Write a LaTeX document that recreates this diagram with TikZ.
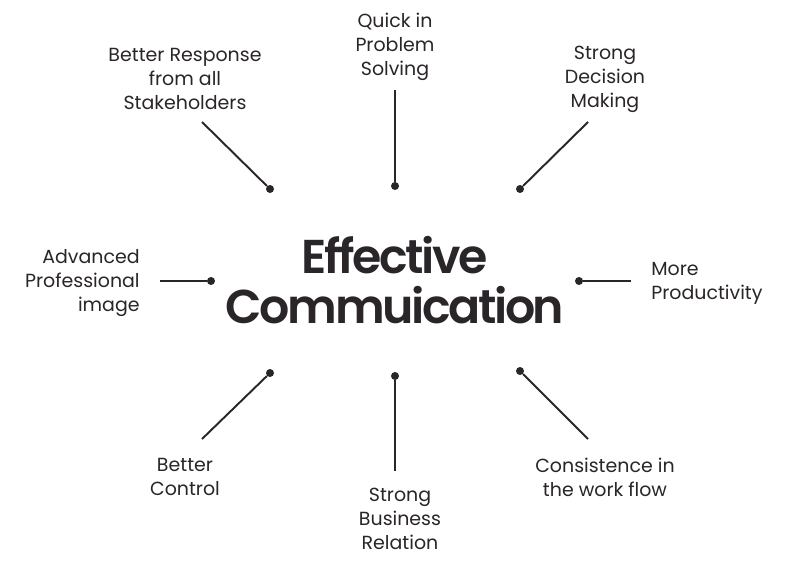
\documentclass[tikz,border=0pt]{standalone}
\usepackage{fontspec}
\setmainfont{Poppins}
\newfontfamily\titlefont{Poppins SemiBold}[LetterSpace=-5]
\usepackage{xcolor}
\usepackage{tikz}
\usetikzlibrary{
    positioning,
    arrows.meta
}
\definecolor{ink}{RGB}{42,37,41}
\tikzset{
    label_text/.style={
        text=ink, align=center,
        font=\fontsize{10.8pt}{13.7pt}\selectfont
    },
    dot/.style={
        circle, fill=ink, inner sep=0pt, minimum size=0.16cm
    },
    link/.style={
        draw=ink, line width=1.1pt
    }
}
\begin{document}
\begin{tikzpicture}[
        x=0.02cm, y=-0.02cm,
        title/.style={text=ink, align=center, font=\fontsize{27pt}{28.5pt}\titlefont},
        label_left/.style={label_text, align=right, anchor=east, inner sep=0pt},
        label_right/.style={label_text, align=left, anchor=west, inner sep=0pt}
    ]
    \useasboundingbox[fill=white] (0,0) rectangle (790,561);

    % TITLE
    \node[title] (title) at (395,280) {Effective\\Commuication};

    % LABELS
    \node[label_text] (quick) at (395,47) {Quick in\\Problem\\Solving};
    \node[label_text] (response) at (185,79) {Better Response\\from all\\Stakeholders};
    \node[label_text] (decision) at (605,79) {Strong\\Decision\\Making};
    \node[label_left] (image) at (140,283) {Advanced\\Professional\\image};
    \node[label_right] (productivity) at (651,283) {More\\Productivity};
    \node[label_text] (control) at (185,477) {Better\\Control};
    \node[label_text] (business) at (400,519) {Strong\\Business\\Relation};
    \node[label_text] (workflow) at (605,477) {Consistence in\\the work flow};

    % DOTS
    \node[dot] (quick_dot) at (395,186) {};
    \node[dot] (response_dot) at (270,189) {};
    \node[dot] (decision_dot) at (520,189) {};
    \node[dot] (image_dot) at (211,281) {};
    \node[dot] (productivity_dot) at (579,281) {};
    \node[dot] (control_dot) at (270,373) {};
    \node[dot] (business_dot) at (395,376) {};
    \node[dot] (workflow_dot) at (520,371) {};

    % Line ends
    \coordinate (quick_end) at (395,90);
    \coordinate (response_end) at (202,122);
    \coordinate (decision_end) at (588,122);
    \coordinate (image_end) at (160,281);
    \coordinate (productivity_end) at (631,281);
    \coordinate (control_end) at (202,439);
    \coordinate (business_end) at (395,471);
    \coordinate (workflow_end) at (588,439);

    % Connections
    \draw[link] (quick_end) -- (quick_dot);
    \draw[link] (response_end) -- (response_dot);
    \draw[link] (decision_end) -- (decision_dot);
    \draw[link] (image_end) -- (image_dot);
    \draw[link] (productivity_end) -- (productivity_dot);
    \draw[link] (control_end) -- (control_dot);
    \draw[link] (business_end) -- (business_dot);
    \draw[link] (workflow_end) -- (workflow_dot);

\end{tikzpicture}
\end{document}
